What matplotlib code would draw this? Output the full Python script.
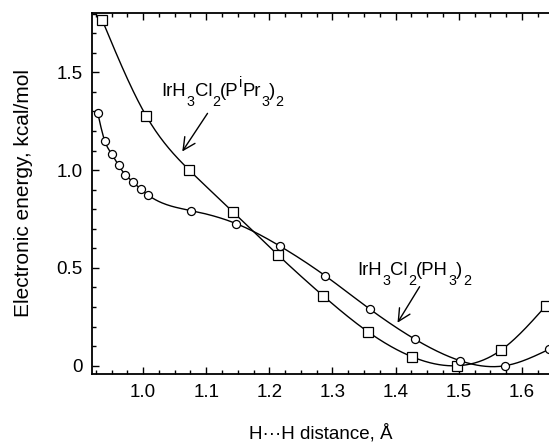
import numpy as np
import matplotlib
matplotlib.use("Agg")
import matplotlib.pyplot as plt
from matplotlib.ticker import MultipleLocator
from matplotlib.transforms import offset_copy

plt.rcParams['font.family'] = ['Liberation Sans', 'DejaVu Sans']

# IrH3Cl2(PiPr3)2 - squares
x_ipr = [0.935, 1.005, 1.073, 1.143, 1.214, 1.285, 1.356, 1.426, 1.497, 1.567, 1.638]
y_ipr = [1.768, 1.276, 1.000, 0.785, 0.565, 0.358, 0.174, 0.046, 0.000, 0.080, 0.306]

# IrH3Cl2(PH3)2 - circles
x_ph3 = [0.928, 0.939, 0.950, 0.961, 0.972, 0.984, 0.996, 1.007, 1.076, 1.147,
         1.217, 1.288, 1.359, 1.431, 1.502, 1.573, 1.643]
y_ph3 = [1.293, 1.151, 1.083, 1.024, 0.976, 0.939, 0.903, 0.874, 0.793, 0.727,
         0.611, 0.461, 0.290, 0.135, 0.026, 0.000, 0.084]

x_ticks = [1.0, 1.1, 1.2, 1.3, 1.4, 1.5, 1.6]
x_ticklabels = ['1.0', '1.1', '1.2', '1.3', '1.4', '1.5', '1.6']
y_ticks = [0, 0.5, 1.0, 1.5]
y_ticklabels = ['0', '0.5', '1.0', '1.5']

# labels: pieces (text, kind) kind 0 normal, -1 subscript, +1 superscript
label_ipr = [('IrH', 0), ('3', -1), ('Cl', 0), ('2', -1), ('(P', 0), ('i', 1),
             ('Pr', 0), ('3', -1), (')', 0), ('2', -1)]
label_ph3 = [('IrH', 0), ('3', -1), ('Cl', 0), ('2', -1), ('(PH', 0), ('3', -1),
             (')', 0), ('2', -1)]


def natural_spline(x, y, n=400):
    x = np.asarray(x, float); y = np.asarray(y, float)
    m = len(x)
    h = np.diff(x)
    A = np.zeros((m, m)); b = np.zeros(m)
    A[0, 0] = 1; A[-1, -1] = 1
    for i in range(1, m - 1):
        A[i, i - 1] = h[i - 1]
        A[i, i] = 2 * (h[i - 1] + h[i])
        A[i, i + 1] = h[i]
        b[i] = 3 * ((y[i + 1] - y[i]) / h[i] - (y[i] - y[i - 1]) / h[i - 1])
    c = np.linalg.solve(A, b)
    xs = np.linspace(x[0], x[-1], n)
    idx = np.clip(np.searchsorted(x, xs) - 1, 0, m - 2)
    dx = xs - x[idx]
    bb = (y[idx + 1] - y[idx]) / h[idx] - h[idx] * (2 * c[idx] + c[idx + 1]) / 3
    d = (c[idx + 1] - c[idx]) / (3 * h[idx])
    ys = y[idx] + bb * dx + c[idx] * dx ** 2 + d * dx ** 3
    return xs, ys


fig = plt.figure(figsize=(5.49, 4.43), dpi=100)
ax = fig.add_axes([0.1676, 0.1558, 0.8324, 0.8149])

for xs_, ys_, mk, ms in [(x_ipr, y_ipr, 's', 6.5), (x_ph3, y_ph3, 'o', 5.8)]:
    sx, sy = natural_spline(xs_, ys_)
    ax.plot(sx, sy, color='black', lw=1.0)
    ax.plot(xs_, ys_, linestyle='none', marker=mk, ms=ms, mfc='white',
            mec='black', mew=0.9)

ax.set_xlim(0.919, 1.643)
ax.set_ylim(-0.042, 1.803)
ax.set_xticks(x_ticks)
ax.set_xticklabels(x_ticklabels)
ax.set_yticks(y_ticks)
ax.set_yticklabels(y_ticklabels)
ax.xaxis.set_minor_locator(MultipleLocator(0.025))
ax.yaxis.set_minor_locator(MultipleLocator(0.1))
ax.tick_params(which='both', direction='in', top=True, right=False,
               labelsize=13.5, width=1.0, colors='black')
ax.tick_params(which='major', length=5, pad=7)
ax.tick_params(which='minor', length=3)
ax.spines['right'].set_visible(False)
for s in ['left', 'bottom', 'top']:
    ax.spines[s].set_linewidth(1.3)

ax.set_xlabel('H\u00b7\u00b7\u00b7H distance, \u00c5', fontsize=13.5, labelpad=16.5)
ax.set_ylabel('Electronic energy, kcal/mol', fontsize=15, labelpad=16.5)

renderer = fig.canvas.get_renderer()


def chem_label(x, y, pieces, size=13.3, subsize=10.3, drop=10, rise=9):
    cur = 0.0
    for s, kind in pieces:
        fs = size if kind == 0 else subsize
        dy = 0 if kind == 0 else (-drop if kind < 0 else rise)
        tr = offset_copy(ax.transData, fig=fig, x=cur, y=dy, units='dots')
        t = ax.text(x, y, s, fontsize=fs, ha='left', va='baseline', transform=tr)
        cur += t.get_window_extent(renderer).width + (0.3 if kind == 0 else 0.0)


chem_label(1.0293, 1.377, label_ipr)
ax.annotate('', xy=(1.062, 1.095), xytext=(1.102, 1.290),
            arrowprops=dict(arrowstyle='->', lw=1.0, color='black',
                            mutation_scale=22, shrinkA=0, shrinkB=0))
chem_label(1.3395, 0.464, label_ph3)
ax.annotate('', xy=(1.403, 0.220), xytext=(1.438, 0.404),
            arrowprops=dict(arrowstyle='->', lw=1.0, color='black',
                            mutation_scale=22, shrinkA=0, shrinkB=0))

fig.savefig('out.png', dpi=100)
